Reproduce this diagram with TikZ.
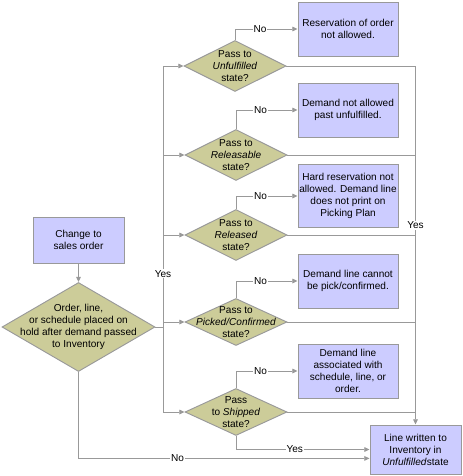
\documentclass[tikz,border=0pt]{standalone}
\usepackage{fontspec}
\setmainfont{Liberation Sans}
\usetikzlibrary{shapes.geometric,arrows.meta}
\definecolor{boxblue}{HTML}{CCCCFF}
\definecolor{khaki}{HTML}{CCCC99}
\definecolor{edgegray}{HTML}{999999}
\begin{document}
\begin{tikzpicture}[x=0.03cm,y=-0.03cm,
  every node/.style={font=\fontsize{8.6}{10.2}\selectfont,align=center},
  stepbox/.style={rectangle,draw=edgegray,fill=boxblue,line width=0.8pt,
                  minimum width=3cm,minimum height=1.62cm,inner sep=1pt},
  query/.style={diamond,draw=edgegray,fill=khaki,line width=0.8pt,
                minimum width=3.06cm,minimum height=1.53cm,inner sep=0pt},
  conn/.style={draw=edgegray,line width=0.8pt},
  link/.style={conn,-{Triangle[length=4.5pt,width=4pt]}},
  tag/.style={fill=white,inner sep=0.8pt}]
\path[use as bounding box] (0,0) rectangle (462,476);
% start of the flow
\node[stepbox,minimum width=2.73cm,minimum height=1.38cm] (change) at (78.5,240) {Change to\\sales order};
\node[query,minimum width=4.59cm,minimum height=2.67cm] (hold) at (78.5,327) {};
\node (holdtext) at (hold) {Order, line,\\or schedule placed on\\hold after demand passed\\to Inventory};
% the five state checks
\node[query] (unful) at (235,66) {};
\node (unfultext) at (unful) {Pass to\\\textit{Unfulfilled}\\state?};
\node[query] (relsbl) at (236,155) {};
\node (relsbltext) at (relsbl) {Pass to\\\textit{Releasable}\\state?};
\node[query] (reld) at (236,235) {};
\node (reldtext) at (reld) {Pass to\\\textit{Released}\\state?};
\node[query,minimum height=1.41cm] (picked) at (236,322) {};
\node (pickedtext) at (picked) {Pass to\\\textit{Picked/Confirmed}\\state?};
\node[query,minimum height=1.41cm] (shipped) at (236,412) {};
\node (shippedtext) at (shipped) {Pass\\to \textit{Shipped}\\state?};
% outcomes
\node[stepbox] (nores) at (348,29) {Reservation of order\\not allowed.};
\node[stepbox] (nodem) at (348,110) {Demand not allowed\\past unfulfilled.};
\node[stepbox,minimum height=1.89cm] (nohard) at (348,196) {Hard reservation not\\allowed. Demand line\\does not print on\\Picking Plan};
\node[stepbox] (nopick) at (348,281) {Demand line cannot\\be pick/confirmed.};
\node[stepbox] (assoc) at (348,371) {Demand line\\associated with\\schedule, line, or\\order.};
\node[stepbox,minimum width=2.73cm,minimum height=1.47cm] (written) at (415.5,449.5) {Line written to\\Inventory in\\\textit{Unfulfilled}state};
% connectors
\draw[link] (change) -- (hold);
\coordinate (trunktop) at (163,66);
\coordinate (trunkbot) at (163,412);
\draw[conn] (hold.east) -- (hold.east -| trunktop);
\draw[conn] (trunktop) -- node[tag,pos=0.6] {Yes} (trunkbot);
\foreach \q in {unful,relsbl,reld,picked,shipped}
  \draw[link] (\q.west -| trunktop) -- (\q.west);
\foreach \q/\b in {unful/nores,relsbl/nodem,reld/nohard,picked/nopick,shipped/assoc}
  \draw[link] (\q.north) |- node[tag,pos=0.7] {No} (\b.west);
\coordinate (railtop) at (415.5,66);
\foreach \q in {unful,relsbl,reld,picked,shipped}
  \draw[conn] (\q.east) -- (\q.east -| railtop);
\draw[link] (railtop) -- node[tag,pos=0.445] {Yes} (written.north);
\draw[link] (shipped.south) |- node[tag,pos=0.72] {Yes} (written.west);
\draw[link] (hold.south) |- node[tag,pos=0.67] {No} ([yshift=-7.6pt]written.west);
\end{tikzpicture}
\end{document}
